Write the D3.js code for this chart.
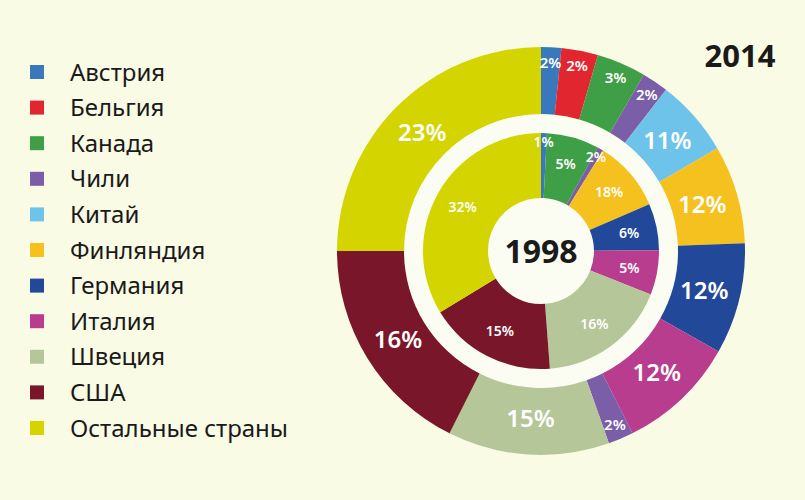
<!DOCTYPE html>
<html>
<head>
<meta charset="utf-8">
<script src="https://cdn.jsdelivr.net/npm/d3@7"></script>
<style>
  body { margin: 0; background: #fafbe4; }
  svg { display: block; }
</style>
</head>
<body>
<script>
// legend categories and colours
var countries = ['Австрия', 'Бельгия', 'Канада', 'Чили', 'Китай', 'Финляндия',
  'Германия', 'Италия', 'Швеция', 'США', 'Остальные страны']
var colors = ['#3a78bd', '#e1262f', '#3f9f46', '#7a5ea8', '#6ec3ea', '#f5c11e',
  '#22489a', '#b83d8e', '#b5c699', '#7a1629', '#d4d400']

// 2014 (outer ring): slice sizes as drawn, printed labels
var outerCountry = ['Австрия', 'Бельгия', 'Канада', 'Чили', 'Китай', 'Финляндия',
  'Германия', 'Италия', 'Чили', 'Швеция', 'США', 'Остальные страны']
var outerShare = [1.6, 2.9, 3.9, 2.1, 6.1, 7.8, 8.8, 9.4, 2.0, 12.8, 17.6, 25.0]
var outerLabel = ['2%', '2%', '3%', '2%', '11%', '12%', '12%', '12%', '2%', '15%', '16%', '23%']

// 1998 (inner ring)
var innerCountry = ['Австрия', 'Канада', 'Чили', 'Финляндия', 'Германия', 'Италия',
  'Швеция', 'США', 'Остальные страны']
var innerShare = [0.8, 7.2, 0.8, 9.7, 6.4, 6.1, 17.8, 17.5, 33.7]
var innerLabel = ['1%', '5%', '2%', '18%', '6%', '5%', '16%', '15%', '32%']

var width = 805, height = 500
var cx = 541, cy = 251

var color = d3.scaleOrdinal().domain(countries).range(colors)

var svg = d3.select('body').append('svg')
  .attr('width', width)
  .attr('height', height)
  .style('font-family', '"Noto Sans", "Open Sans", sans-serif')

svg.append('rect')
  .attr('width', width)
  .attr('height', height)
  .attr('fill', '#fafbe4')

// legend
var legend = svg.append('g').attr('transform', 'translate(30,72)')
var item = legend.selectAll('g')
  .data(countries)
  .enter().append('g')
  .attr('transform', function (d, i) { return 'translate(0,' + i * 35.6 + ')' })
item.append('rect')
  .attr('x', 0).attr('y', -7)
  .attr('width', 14).attr('height', 14)
  .attr('fill', function (d) { return color(d) })
item.append('text')
  .attr('x', 40).attr('y', 8.5)
  .attr('font-size', 24)
  .attr('fill', '#1a1a1a')
  .text(function (d) { return d })

var chart = svg.append('g').attr('transform', 'translate(' + cx + ',' + cy + ')')

var pie = d3.pie().sort(null).value(function (d) { return d.v })

function ring (names, shares, labels) {
  return names.map(function (n, i) { return { name: n, v: shares[i], label: labels[i] } })
}

// outer ring
var outerArc = d3.arc().innerRadius(137).outerRadius(204)
var outerArcs = pie(ring(outerCountry, outerShare, outerLabel))
chart.append('circle').attr('r', 137).attr('fill', '#fcfdf2')
chart.selectAll('path.outer')
  .data(outerArcs)
  .enter().append('path')
  .attr('class', 'outer')
  .attr('d', outerArc)
  .attr('fill', function (d) { return color(d.data.name) })

chart.selectAll('text.outer')
  .data(outerArcs)
  .enter().append('text')
  .attr('class', 'outer')
  .attr('transform', function (d) {
    var r = d.data.v < 5 ? 189 : 168
    var a = (d.startAngle + d.endAngle) / 2
    return 'translate(' + (Math.sin(a) * r) + ',' + (-Math.cos(a) * r) + ')'
  })
  .attr('text-anchor', 'middle')
  .attr('dy', '0.36em')
  .attr('font-size', function (d) { return d.data.v < 5 ? 15 : 24 })
  .attr('font-weight', 600)
  .attr('fill', '#fff')
  .text(function (d) { return d.data.label })

// inner ring
var innerArc = d3.arc().innerRadius(53).outerRadius(118)
var innerArcs = pie(ring(innerCountry, innerShare, innerLabel))
chart.selectAll('path.inner')
  .data(innerArcs)
  .enter().append('path')
  .attr('class', 'inner')
  .attr('d', innerArc)
  .attr('fill', function (d) { return color(d.data.name) })

chart.selectAll('text.inner')
  .data(innerArcs)
  .enter().append('text')
  .attr('class', 'inner')
  .attr('transform', function (d) {
    var r = d.data.v < 2 ? 109 : 90
    var a = (d.startAngle + d.endAngle) / 2
    return 'translate(' + (Math.sin(a) * r) + ',' + (-Math.cos(a) * r) + ')'
  })
  .attr('text-anchor', 'middle')
  .attr('dy', '0.36em')
  .attr('font-size', 14)
  .attr('font-weight', 600)
  .attr('fill', '#fff')
  .text(function (d) { return d.data.label })

chart.append('text')
  .attr('text-anchor', 'middle')
  .attr('dy', '0.36em')
  .attr('font-size', 32)
  .attr('font-weight', 700)
  .attr('fill', '#1a1a1a')
  .text('1998')

svg.append('text')
  .attr('x', 740).attr('y', 67)
  .attr('text-anchor', 'middle')
  .attr('font-size', 31)
  .attr('font-weight', 700)
  .attr('fill', '#1a1a1a')
  .text('2014')
</script>
</body>
</html>
